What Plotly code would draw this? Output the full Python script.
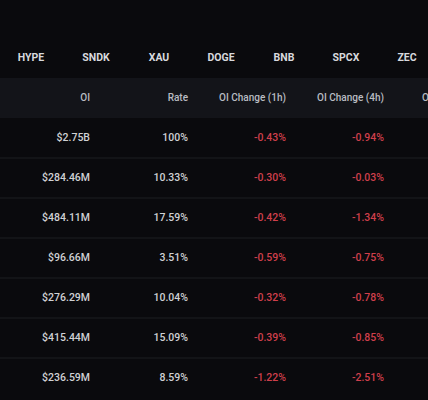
import plotly.graph_objects as go

# table content
symbols = ["HYPE", "SNDK", "XAU", "DOGE", "BNB", "SPCX", "ZEC"]
headers = ["OI", "Rate", "OI Change (1h)", "OI Change (4h)", "OI Change (24h)"]
oi_usd = [2.75e9, 284.46e6, 484.11e6, 96.66e6, 276.29e6, 415.44e6, 236.59e6]
rate = [100, 10.33, 17.59, 3.51, 10.04, 15.09, 8.59]
chg_1h = [-0.43, -0.30, -0.42, -0.59, -0.32, -0.39, -1.22]
chg_4h = [-0.94, -0.03, -1.34, -0.75, -0.78, -0.85, -2.51]

W, H = 428, 400
BG = "#0a0a0d"
BAND = "#131419"
GRID = "#1d1e23"
TXT = "#d0d1d4"
HEAD = "#b9bcc2"
RED = "#cf3f4b"
FONT = "Roboto, Liberation Sans, sans-serif"

sym_x = [31, 96, 159, 221, 284, 346, 407]
col_x = [90, 188, 286, 384]
last_head_x = 422  # the 24h header only peeks in at the right edge
sym_y = 58
head_y = 98
row_y0, row_h = 138, 40


def fmt_usd(v):
    if v >= 1e9:
        return "$%.2fB" % (v / 1e9)
    return "$%.2fM" % (v / 1e6)


def fmt_pct(v):
    s = "%.2f" % v
    if s.endswith(".00"):
        s = s[:-3]
    return s + "%"


rows_y = [row_y0 + i * row_h for i in range(len(oi_usd))]

fig = go.Figure()

# symbol tabs
fig.add_trace(go.Scatter(x=sym_x, y=[sym_y] * len(symbols), mode="text", text=symbols,
                         textposition="middle center",
                         textfont=dict(family=FONT, size=10.5, color="#d8d9dd", weight="bold"),
                         hoverinfo="skip", cliponaxis=False))

# column headers
fig.add_trace(go.Scatter(x=col_x, y=[head_y] * len(col_x), mode="text", text=headers[:len(col_x)],
                         textposition="middle left",
                         textfont=dict(family=FONT, size=10, color=HEAD, weight=500),
                         hoverinfo="skip", cliponaxis=False))
fig.add_trace(go.Scatter(x=[last_head_x], y=[head_y], mode="text", text=headers[len(col_x):],
                         textposition="middle right",
                         textfont=dict(family=FONT, size=10, color=HEAD, weight=500),
                         hoverinfo="skip", cliponaxis=False))

columns = [
    ([fmt_usd(v) for v in oi_usd], TXT),
    ([fmt_pct(v) for v in rate], TXT),
    ([fmt_pct(v) for v in chg_1h], [RED if v < 0 else "#2ebd85" for v in chg_1h]),
    ([fmt_pct(v) for v in chg_4h], [RED if v < 0 else "#2ebd85" for v in chg_4h]),
]
for i, (texts, color) in enumerate(columns):
    fig.add_trace(go.Scatter(x=[col_x[i]] * len(texts), y=rows_y, mode="text", text=texts,
                             textposition="middle left",
                             textfont=dict(family=FONT, size=10.5, color=color, weight=500),
                             hoverinfo="skip", cliponaxis=False))

shapes = [dict(type="rect", xref="x", yref="y", x0=0, x1=W, y0=head_y - 20, y1=head_y + 20,
               fillcolor=BAND, line_width=0, layer="below")]
for y in rows_y[:-1]:
    shapes.append(dict(type="line", xref="x", yref="y", x0=0, x1=W,
                       y0=y + row_h / 2, y1=y + row_h / 2,
                       line=dict(color=GRID, width=1), layer="below"))

fig.update_layout(
    width=W, height=H,
    margin=dict(l=0, r=0, t=0, b=0),
    paper_bgcolor=BG, plot_bgcolor=BG,
    showlegend=False,
    shapes=shapes,
    xaxis=dict(range=[0, W], visible=False, fixedrange=True),
    yaxis=dict(range=[H, 0], visible=False, fixedrange=True),
)

fig.write_html("out.html", config={"displayModeBar": False},
               post_script="document.body.style.margin='0';document.body.style.overflow='hidden';")
